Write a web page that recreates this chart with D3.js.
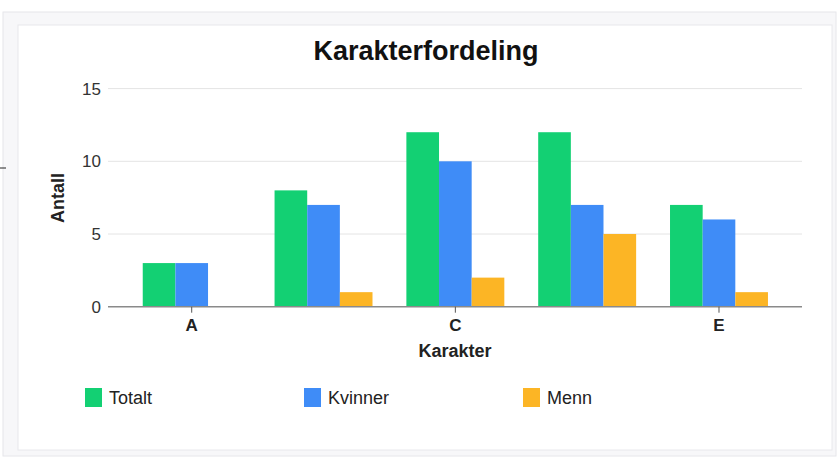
<!DOCTYPE html>
<html>
<head>
<meta charset="utf-8">
<script src="https://cdn.jsdelivr.net/npm/d3@7"></script>
<style>
  body { margin: 0; background: #fff; }
  svg { display: block; font-family: "Liberation Sans", Arial, sans-serif; }
</style>
</head>
<body>
<div id="chart"></div>
<script>
var categories = ["A", "B", "C", "D", "E"];
var shownTicks = ["A", "C", "E"];
var seriesNames = ["Totalt", "Kvinner", "Menn"];
var totalt = [3, 8, 12, 12, 7];
var kvinner = [3, 7, 10, 7, 6];
var menn = [0, 1, 2, 5, 1];
var yTicks = [0, 5, 10, 15];
var colors = ["#13d073", "#3f8cf7", "#fcb525"];

var width = 837, height = 458;

var svg = d3.select("#chart").append("svg")
  .attr("width", width)
  .attr("height", height);

/* frame + card */
svg.append("rect")
  .attr("x", 3).attr("y", 12).attr("width", 833).attr("height", 444)
  .attr("fill", "#f7f7f9").attr("stroke", "#e6e6ea");
svg.append("rect")
  .attr("x", 18).attr("y", 25).attr("width", 814).attr("height", 425)
  .attr("fill", "#fff").attr("stroke", "#e8e8ec");
svg.append("line")
  .attr("x1", 0).attr("x2", 6).attr("y1", 168).attr("y2", 168)
  .attr("stroke", "#222");

/* data table built from arrays */
var data = categories.map(function(c, i) {
  return { cat: c, values: [totalt[i], kvinner[i], menn[i]] };
});

/* Scale */
var x0 = d3.scaleBand()
  .domain(categories)
  .range([125.8, 784.9])
  .paddingInner(0.257)
  .paddingOuter(0.1285);

var x1 = d3.scaleBand()
  .domain(d3.range(seriesNames.length))
  .range([0, x0.bandwidth()]);

var y = d3.scaleLinear()
  .domain([0, 15])
  .range([306.7, 88.6]);

var plotLeft = 108, plotRight = 802;

/* gridlines */
svg.append("g")
  .selectAll("line")
  .data(yTicks.filter(function(t) { return t > 0; }))
  .enter().append("line")
  .attr("x1", plotLeft).attr("x2", plotRight)
  .attr("y1", function(d) { return y(d); })
  .attr("y2", function(d) { return y(d); })
  .attr("stroke", "#e4e4e4")
  .attr("stroke-width", 1);

/* y axis labels */
var yAxis = d3.axisLeft(y).tickValues(yTicks).tickSize(0).tickPadding(0);
var gy = svg.append("g")
  .attr("transform", "translate(101,0)")
  .call(yAxis);
gy.select(".domain").remove();
gy.selectAll("text")
  .attr("font-size", 17)
  .attr("font-family", "Liberation Sans, Arial, sans-serif")
  .attr("fill", "#333");

/* bars */
svg.append("g")
  .selectAll("g")
  .data(data).enter()
  .append("g")
  .attr("transform", function(d) { return "translate(" + x0(d.cat) + ",0)"; })
  .selectAll("rect")
  .data(function(d) { return d.values.map(function(v, i) { return { i: i, v: v }; }); })
  .enter().append("rect")
  .attr("x", function(d) { return x1(d.i); })
  .attr("width", x1.bandwidth())
  .attr("y", function(d) { return y(d.v); })
  .attr("height", function(d) { return y(0) - y(d.v); })
  .attr("fill", function(d) { return colors[d.i]; });

/* baseline */
svg.append("line")
  .attr("x1", plotLeft).attr("x2", plotRight)
  .attr("y1", y(0)).attr("y2", y(0))
  .attr("stroke", "#8a8a8a")
  .attr("stroke-width", 1.5);

/* x axis */
var xAxis = d3.axisBottom(x0).tickValues(shownTicks).tickSize(6).tickPadding(6);
var gx = svg.append("g")
  .attr("transform", "translate(0," + y(0) + ")")
  .call(xAxis);
gx.select(".domain").remove();
gx.selectAll("line").attr("stroke", "#555");
gx.selectAll("text")
  .attr("font-size", 17)
  .attr("font-weight", "bold")
  .attr("font-family", "Liberation Sans, Arial, sans-serif")
  .attr("fill", "#222");

/* titles */
svg.append("text")
  .attr("x", 426).attr("y", 60)
  .attr("text-anchor", "middle")
  .attr("font-size", 27)
  .attr("font-weight", "bold")
  .attr("fill", "#111")
  .text("Karakterfordeling");

svg.append("text")
  .attr("x", 455).attr("y", 357)
  .attr("text-anchor", "middle")
  .attr("font-size", 18)
  .attr("font-weight", "bold")
  .attr("fill", "#222")
  .text("Karakter");

svg.append("text")
  .attr("transform", "translate(64,198) rotate(-90)")
  .attr("text-anchor", "middle")
  .attr("font-size", 18)
  .attr("font-weight", "bold")
  .attr("fill", "#222")
  .text("Antall");

/* legend */
var legendX = [85, 304, 523];
var legend = svg.append("g")
  .selectAll("g")
  .data(seriesNames).enter()
  .append("g")
  .attr("transform", function(d, i) { return "translate(" + legendX[i] + ",388)"; });
legend.append("rect")
  .attr("width", 17).attr("height", 19)
  .attr("fill", function(d, i) { return colors[i]; });
legend.append("text")
  .attr("x", 24).attr("y", 16)
  .attr("font-size", 18)
  .attr("fill", "#222")
  .text(function(d) { return d; });
</script>
</body>
</html>
